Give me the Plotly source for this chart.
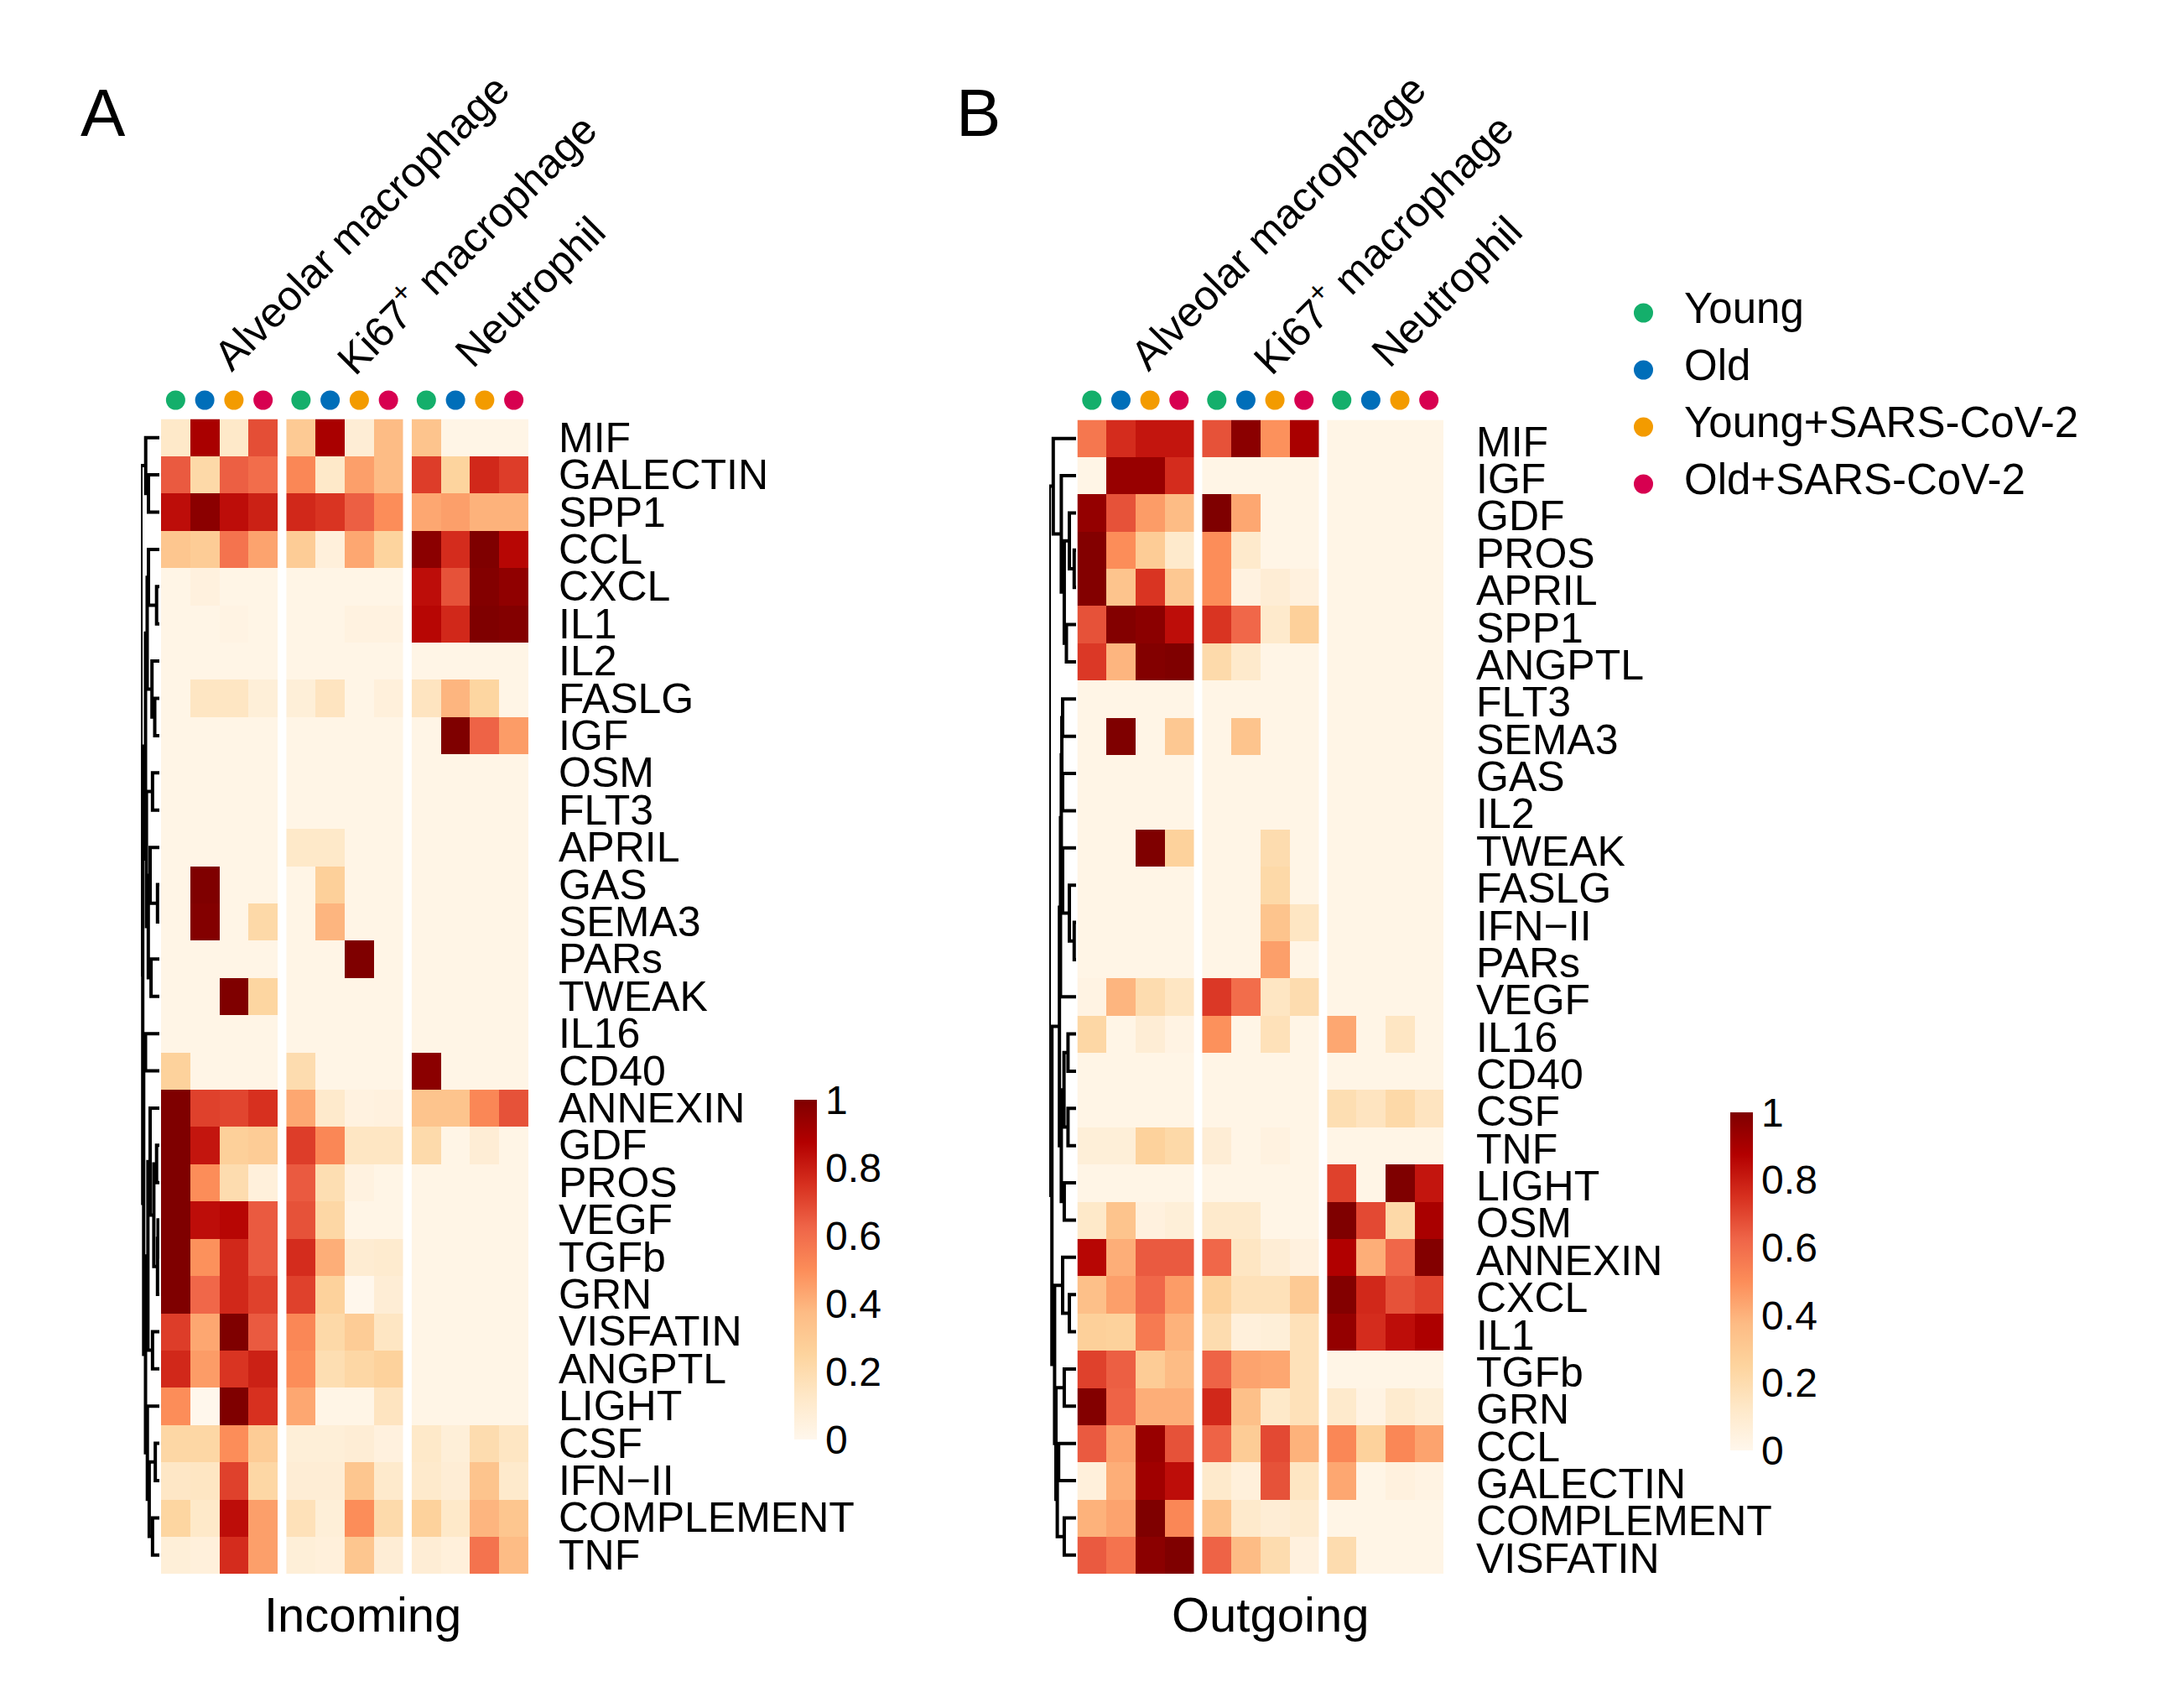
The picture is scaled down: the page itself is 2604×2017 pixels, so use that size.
import plotly.graph_objects as go

W, H = 2604, 2017
OFF = 8  # default page margin of the browser around the figure
FONT = "Liberation Sans, Arial, Helvetica, sans-serif"

# ---------------- data ----------------
conditions = ["Young", "Old", "Young+SARS-CoV-2", "Old+SARS-CoV-2"]
condition_colors = ["#14AF6B", "#006EB9", "#F39B00", "#D70050"]
cell_types = ["Alveolar macrophage", "Ki67<sup>+</sup> macrophage", "Neutrophil"]

rows_incoming = ["MIF", "GALECTIN", "SPP1", "CCL", "CXCL", "IL1", "IL2", "FASLG", "IGF", "OSM",
                 "FLT3", "APRIL", "GAS", "SEMA3", "PARs", "TWEAK", "IL16", "CD40", "ANNEXIN", "GDF",
                 "PROS", "VEGF", "TGFb", "GRN", "VISFATIN", "ANGPTL", "LIGHT", "CSF", "IFN\u2212II",
                 "COMPLEMENT", "TNF"]

# columns: Young, Old, Young+SARS-CoV-2, Old+SARS-CoV-2
incoming_alveolar = [
    [0.12, 0.90, 0.12, 0.68], [0.65, 0.22, 0.64, 0.60], [0.84, 0.97, 0.84, 0.79], [0.32, 0.29, 0.58, 0.44],
    [0.02, 0.05, 0.02, 0.02], [0.02, 0.02, 0.03, 0.02], [0.02, 0.02, 0.02, 0.02], [0.02, 0.14, 0.14, 0.07],
    [0.02, 0.02, 0.02, 0.02], [0.02, 0.02, 0.02, 0.02], [0.02, 0.02, 0.02, 0.02], [0.02, 0.02, 0.02, 0.02],
    [0.02, 1.00, 0.02, 0.02], [0.02, 0.99, 0.02, 0.22], [0.02, 0.02, 0.02, 0.02], [0.02, 0.02, 1.00, 0.24],
    [0.02, 0.02, 0.02, 0.02], [0.26, 0.02, 0.02, 0.02], [1.00, 0.71, 0.70, 0.75], [1.00, 0.82, 0.27, 0.29],
    [1.00, 0.50, 0.20, 0.06], [1.00, 0.84, 0.86, 0.65], [1.00, 0.49, 0.77, 0.65], [1.00, 0.62, 0.77, 0.71],
    [0.72, 0.43, 1.00, 0.65], [0.77, 0.46, 0.74, 0.79], [0.50, 0.00, 1.00, 0.75], [0.23, 0.23, 0.50, 0.29],
    [0.13, 0.14, 0.71, 0.23], [0.24, 0.12, 0.84, 0.45], [0.07, 0.06, 0.76, 0.45],
]
incoming_ki67 = [
    [0.30, 0.90, 0.08, 0.37], [0.52, 0.12, 0.45, 0.37], [0.77, 0.74, 0.64, 0.50], [0.29, 0.06, 0.43, 0.25],
    [0.02, 0.02, 0.02, 0.02], [0.02, 0.02, 0.04, 0.04], [0.02, 0.02, 0.02, 0.02], [0.07, 0.15, 0.02, 0.06],
    [0.02, 0.02, 0.02, 0.02], [0.02, 0.02, 0.02, 0.02], [0.02, 0.02, 0.02, 0.02], [0.12, 0.12, 0.02, 0.02],
    [0.02, 0.27, 0.02, 0.02], [0.02, 0.39, 0.02, 0.02], [0.02, 0.02, 1.00, 0.02], [0.02, 0.02, 0.02, 0.02],
    [0.02, 0.02, 0.02, 0.02], [0.20, 0.02, 0.02, 0.02], [0.43, 0.11, 0.04, 0.05], [0.72, 0.52, 0.14, 0.14],
    [0.65, 0.19, 0.04, 0.02], [0.67, 0.23, 0.02, 0.02], [0.76, 0.41, 0.09, 0.10], [0.71, 0.26, 0.00, 0.08],
    [0.52, 0.22, 0.29, 0.14], [0.50, 0.19, 0.23, 0.26], [0.43, 0.02, 0.02, 0.15], [0.07, 0.07, 0.08, 0.05],
    [0.08, 0.08, 0.32, 0.11], [0.17, 0.07, 0.50, 0.21], [0.07, 0.06, 0.32, 0.08],
]
incoming_neutrophil = [
    [0.33, 0.02, 0.02, 0.02], [0.72, 0.25, 0.77, 0.72], [0.43, 0.45, 0.40, 0.40], [0.97, 0.76, 1.00, 0.86],
    [0.84, 0.67, 0.99, 0.96], [0.86, 0.77, 1.00, 0.99], [0.02, 0.02, 0.02, 0.02], [0.15, 0.39, 0.24, 0.02],
    [0.02, 1.00, 0.63, 0.46], [0.02, 0.02, 0.02, 0.02], [0.02, 0.02, 0.02, 0.02], [0.02, 0.02, 0.02, 0.02],
    [0.02, 0.02, 0.02, 0.02], [0.02, 0.02, 0.02, 0.02], [0.02, 0.02, 0.02, 0.02], [0.02, 0.02, 0.02, 0.02],
    [0.02, 0.02, 0.02, 0.02], [0.97, 0.02, 0.02, 0.02], [0.33, 0.33, 0.52, 0.67], [0.21, 0.02, 0.08, 0.02],
    [0.02, 0.02, 0.02, 0.02], [0.02, 0.02, 0.02, 0.02], [0.02, 0.02, 0.02, 0.02], [0.02, 0.02, 0.02, 0.02],
    [0.02, 0.02, 0.02, 0.02], [0.02, 0.02, 0.02, 0.02], [0.02, 0.02, 0.02, 0.02], [0.12, 0.07, 0.20, 0.14],
    [0.11, 0.08, 0.33, 0.11], [0.26, 0.12, 0.39, 0.32], [0.08, 0.06, 0.58, 0.37],
]

rows_outgoing = ["MIF", "IGF", "GDF", "PROS", "APRIL", "SPP1", "ANGPTL", "FLT3", "SEMA3", "GAS",
                 "IL2", "TWEAK", "FASLG", "IFN\u2212II", "PARs", "VEGF", "IL16", "CD40", "CSF", "TNF",
                 "LIGHT", "OSM", "ANNEXIN", "CXCL", "IL1", "TGFb", "GRN", "CCL", "GALECTIN",
                 "COMPLEMENT", "VISFATIN"]

outgoing_alveolar = [
    [0.57, 0.76, 0.82, 0.82], [0.02, 0.94, 0.94, 0.76], [0.95, 0.67, 0.46, 0.37], [0.99, 0.50, 0.29, 0.11],
    [0.99, 0.33, 0.74, 0.31], [0.67, 0.99, 0.97, 0.84], [0.73, 0.39, 0.99, 1.00], [0.02, 0.02, 0.02, 0.02],
    [0.02, 1.00, 0.02, 0.31], [0.02, 0.02, 0.02, 0.02], [0.02, 0.02, 0.02, 0.02], [0.02, 0.02, 1.00, 0.26],
    [0.02, 0.02, 0.02, 0.02], [0.02, 0.02, 0.02, 0.02], [0.02, 0.02, 0.02, 0.02], [0.03, 0.39, 0.20, 0.14],
    [0.23, 0.02, 0.08, 0.03], [0.02, 0.02, 0.02, 0.02], [0.02, 0.02, 0.02, 0.02], [0.07, 0.07, 0.26, 0.22],
    [0.02, 0.02, 0.02, 0.02], [0.12, 0.33, 0.05, 0.07], [0.86, 0.41, 0.65, 0.65], [0.35, 0.45, 0.62, 0.46],
    [0.27, 0.26, 0.56, 0.40], [0.71, 0.64, 0.29, 0.37], [0.99, 0.63, 0.41, 0.41], [0.65, 0.44, 0.94, 0.67],
    [0.06, 0.41, 0.92, 0.84], [0.40, 0.44, 1.00, 0.52], [0.65, 0.58, 0.97, 1.00],
]
outgoing_ki67 = [
    [0.67, 0.97, 0.49, 0.90], [0.02, 0.02, 0.02, 0.02], [1.00, 0.43, 0.02, 0.02], [0.50, 0.11, 0.02, 0.02],
    [0.50, 0.04, 0.08, 0.05], [0.74, 0.62, 0.11, 0.27], [0.21, 0.11, 0.02, 0.02], [0.02, 0.02, 0.02, 0.02],
    [0.02, 0.33, 0.02, 0.02], [0.02, 0.02, 0.02, 0.02], [0.02, 0.02, 0.02, 0.02], [0.02, 0.02, 0.20, 0.02],
    [0.02, 0.02, 0.22, 0.02], [0.02, 0.02, 0.33, 0.14], [0.02, 0.02, 0.45, 0.02], [0.73, 0.60, 0.14, 0.20],
    [0.49, 0.02, 0.17, 0.02], [0.02, 0.02, 0.02, 0.02], [0.02, 0.02, 0.02, 0.02], [0.08, 0.02, 0.04, 0.02],
    [0.02, 0.02, 0.02, 0.02], [0.11, 0.11, 0.02, 0.02], [0.62, 0.14, 0.08, 0.05], [0.26, 0.17, 0.17, 0.30],
    [0.20, 0.06, 0.07, 0.17], [0.63, 0.44, 0.43, 0.17], [0.77, 0.35, 0.12, 0.17], [0.63, 0.29, 0.69, 0.40],
    [0.11, 0.06, 0.67, 0.14], [0.33, 0.11, 0.08, 0.10], [0.63, 0.37, 0.20, 0.05],
]
outgoing_neutrophil = [
    [0.02, 0.02, 0.02, 0.02], [0.02, 0.02, 0.02, 0.02], [0.02, 0.02, 0.02, 0.02], [0.02, 0.02, 0.02, 0.02],
    [0.02, 0.02, 0.02, 0.02], [0.02, 0.02, 0.02, 0.02], [0.02, 0.02, 0.02, 0.02], [0.02, 0.02, 0.02, 0.02],
    [0.02, 0.02, 0.02, 0.02], [0.02, 0.02, 0.02, 0.02], [0.02, 0.02, 0.02, 0.02], [0.02, 0.02, 0.02, 0.02],
    [0.02, 0.02, 0.02, 0.02], [0.02, 0.02, 0.02, 0.02], [0.02, 0.02, 0.02, 0.02], [0.02, 0.02, 0.02, 0.02],
    [0.43, 0.02, 0.14, 0.02], [0.02, 0.02, 0.02, 0.02], [0.19, 0.15, 0.22, 0.15], [0.02, 0.02, 0.02, 0.02],
    [0.71, 0.02, 1.00, 0.82], [1.00, 0.69, 0.22, 0.90], [0.88, 0.41, 0.62, 0.99], [0.99, 0.77, 0.67, 0.71],
    [0.95, 0.76, 0.84, 0.89], [0.02, 0.02, 0.02, 0.02], [0.11, 0.03, 0.10, 0.07], [0.52, 0.26, 0.52, 0.44],
    [0.43, 0.02, 0.05, 0.03], [0.02, 0.02, 0.02, 0.02], [0.20, 0.02, 0.02, 0.02],
]

# row dendrograms: (left child, right child, height); leaves 0..30, merges numbered from 31
dendro_incoming = [
    (4, 5, 0.15), (1, 2, 0.59), (0, 32, 0.74), (3, 31, 0.59), (7, 8, 0.25), (6, 35, 0.40),
    (34, 36, 0.66), (9, 10, 0.37), (12, 13, 0.10), (14, 15, 0.45), (11, 39, 0.50), (41, 40, 0.60),
    (38, 42, 0.70), (37, 43, 0.75), (16, 17, 0.75), (21, 22, 0.07), (46, 23, 0.10), (19, 20, 0.15),
    (48, 47, 0.30), (18, 49, 0.50), (24, 25, 0.37), (50, 51, 0.62), (27, 28, 0.22), (29, 30, 0.37),
    (53, 54, 0.55), (26, 55, 0.65), (52, 56, 0.75), (45, 57, 0.85), (44, 58, 0.90), (33, 59, 1.00),
]
dendro_outgoing = [
    (3, 4, 0.07), (2, 31, 0.25), (5, 6, 0.36), (32, 33, 0.44), (1, 34, 0.55), (0, 35, 0.85),
    (7, 8, 0.50), (9, 10, 0.50), (37, 38, 0.53), (13, 14, 0.07), (12, 40, 0.25), (11, 41, 0.50),
    (39, 42, 0.55), (43, 15, 0.58), (16, 17, 0.30), (18, 19, 0.30), (45, 46, 0.45), (20, 21, 0.44),
    (47, 48, 0.55), (44, 49, 0.62), (23, 24, 0.25), (22, 51, 0.50), (25, 26, 0.44), (27, 28, 0.65),
    (29, 30, 0.44), (54, 55, 0.70), (53, 56, 0.75), (52, 57, 0.80), (50, 58, 0.90), (36, 59, 1.00),
]

colorbar_ticks = [0, 0.2, 0.4, 0.6, 0.8, 1]
colorbar_ticktext = ["0", "0.2", "0.4", "0.6", "0.8", "1"]
orrd = ["#fff7ec", "#fee8c8", "#fdd49e", "#fdbb84", "#fc8d59", "#ef6548", "#d7301f", "#b30000", "#7f0000"]

# ---------------- layout helpers ----------------
FW, FH = W - 2 * OFF, H - 2 * OFF


def fx(p):
    return (p - OFF) / FW


def fy(p):
    return 1 - (p - OFF) / FH


GAP = 0.30  # gap between cell-type blocks, in column units
NCOND = len(conditions)


def col_pos(g, k):
    return g * NCOND + k + g * GAP


panels = [
    dict(name="A", rows=rows_incoming, blocks=[incoming_alveolar, incoming_ki67, incoming_neutrophil],
         dendro=dendro_incoming, L=192, R=630, top=499.5, bottom=1876, label_x=664, label_shift=0,
         dL=168, dR=190, cb_x=947, cb_top=1311, cb_bot=1716, title="Incoming", title_x=433,
         letter_x=123),
    dict(name="B", rows=rows_outgoing, blocks=[outgoing_alveolar, outgoing_ki67, outgoing_neutrophil],
         dendro=dendro_outgoing, L=1284.5, R=1721, top=500.5, bottom=1876, label_x=1758, label_shift=-4,
         dL=1251, dR=1283, cb_x=2063, cb_top=1326, cb_bot=1729, title="Outgoing", title_x=1515,
         letter_x=1166),
]


def axname(letter, i):
    return f"{letter}axis" if i == 1 else f"{letter}axis{i}"


def ref(letter, i):
    return letter if i == 1 else f"{letter}{i}"


fig = go.Figure()
annotations = []
shapes = []
layout_axes = {}

for pi, P in enumerate(panels):
    n = len(P["rows"])
    hx, hy = (1, 1) if pi == 0 else (4, 4)
    dx_id = 2 if pi == 0 else 5
    dot_y = 2 if pi == 0 else 5
    caxis = "coloraxis" if pi == 0 else "coloraxis2"

    xmax = col_pos(len(P["blocks"]) - 1, NCOND - 1) + 0.5
    layout_axes[axname("x", hx)] = dict(domain=[fx(P["L"]), fx(P["R"])], range=[-0.5, xmax],
                                        visible=False, anchor=ref("y", hy))
    layout_axes[axname("y", hy)] = dict(domain=[fy(P["bottom"]), fy(P["top"])], range=[n - 0.5, -0.5],
                                        visible=False, anchor=ref("x", hx))
    layout_axes[axname("y", dot_y)] = dict(domain=[fy(492), fy(462)], range=[0, 1], visible=False,
                                           anchor=ref("x", hx))
    layout_axes[axname("x", dx_id)] = dict(domain=[fx(P["dL"]), fx(P["dR"])], range=[1.0, 0.0],
                                           visible=False, anchor=ref("y", hy))

    # heatmap blocks
    for g, block in enumerate(P["blocks"]):
        fig.add_trace(go.Heatmap(
            z=block, x=[col_pos(g, k) for k in range(NCOND)], y=list(range(n)),
            coloraxis=caxis, xaxis=ref("x", hx), yaxis=ref("y", hy), hoverinfo="skip",
        ))

    # condition dots
    for k, (cond, col) in enumerate(zip(conditions, condition_colors)):
        fig.add_trace(go.Scatter(
            x=[col_pos(g, k) for g in range(len(P["blocks"]))], y=[0.5] * len(P["blocks"]),
            mode="markers", marker=dict(size=23, color=col, line=dict(width=0)),
            xaxis=ref("x", hx), yaxis=ref("y", dot_y), showlegend=False, hoverinfo="skip",
        ))

    # dendrogram
    pos = {i: (float(i), 0.0) for i in range(n)}
    lx, ly = [], []
    for m, (a, b, h) in enumerate(P["dendro"]):
        ya_, ha = pos[a]
        yb_, hb = pos[b]
        lx += [ha, h, h, hb, None]
        ly += [ya_, ya_, yb_, yb_, None]
        pos[n + m] = ((ya_ + yb_) / 2, h)
    fig.add_trace(go.Scatter(x=lx, y=ly, mode="lines", line=dict(color="black", width=4),
                             xaxis=ref("x", dx_id), yaxis=ref("y", hy), showlegend=False,
                             hoverinfo="skip"))

    # row labels
    for i, lab in enumerate(P["rows"]):
        annotations.append(dict(text=lab, x=fx(P["label_x"]), xref="paper", xanchor="left",
                                y=i, yref=ref("y", hy), yanchor="middle", yshift=P["label_shift"],
                                showarrow=False, font=dict(size=50, color="black", family=FONT)))

    # column titles (rotated)
    L = P["L"]
    for (cx, cy), ct in zip([(L + 239.5, 265), (L + 362, 289), (L + 440, 347.5)], cell_types):
        annotations.append(dict(text=ct, x=fx(cx), y=fy(cy), xref="paper", yref="paper",
                                xanchor="center", yanchor="middle", textangle=-45, showarrow=False,
                                font=dict(size=50, color="black", family=FONT)))

    # panel letter and bottom title
    annotations.append(dict(text=P["name"], x=fx(P["letter_x"]), y=fy(135), xref="paper", yref="paper",
                            xanchor="center", yanchor="middle", showarrow=False,
                            font=dict(size=80, color="black", family=FONT)))
    annotations.append(dict(text=P["title"], x=fx(P["title_x"]), y=fy(1924), xref="paper", yref="paper",
                            xanchor="center", yanchor="middle", showarrow=False,
                            font=dict(size=58, color="black", family=FONT)))

    # colour axis
    layout_axes[caxis] = dict(
        cmin=0, cmax=1, colorscale=[[i / (len(orrd) - 1), c] for i, c in enumerate(orrd)],
        colorbar=dict(
            x=fx(P["cb_x"]), xanchor="left", xpad=0, ypad=0,
            y=fy((P["cb_top"] + P["cb_bot"]) / 2), yanchor="middle",
            len=P["cb_bot"] - P["cb_top"], lenmode="pixels", thickness=27, thicknessmode="pixels",
            outlinewidth=0, ticks="", tickvals=colorbar_ticks, ticktext=colorbar_ticktext,
            tickfont=dict(size=48, color="black", family=FONT),
        ),
    )

# legend (conditions)
for k, (cond, col) in enumerate(zip(conditions, condition_colors)):
    cy = 373 + 68 * k
    shapes.append(dict(type="circle", xref="paper", yref="paper", x0=fx(1948), x1=fx(1971),
                       y0=fy(cy + 11.5), y1=fy(cy - 11.5), fillcolor=col, line=dict(width=0)))
    annotations.append(dict(text=cond, x=fx(2006), y=fy(cy - 5.5), xref="paper", yref="paper",
                            xanchor="left", yanchor="middle", showarrow=False,
                            font=dict(size=51, color="black", family=FONT)))

fig.update_layout(
    width=FW, height=FH, margin=dict(l=0, r=0, t=0, b=0),
    paper_bgcolor="white", plot_bgcolor="white", showlegend=False,
    annotations=annotations, shapes=shapes, font=dict(family=FONT), **layout_axes,
)

fig.write_html("out.html")
